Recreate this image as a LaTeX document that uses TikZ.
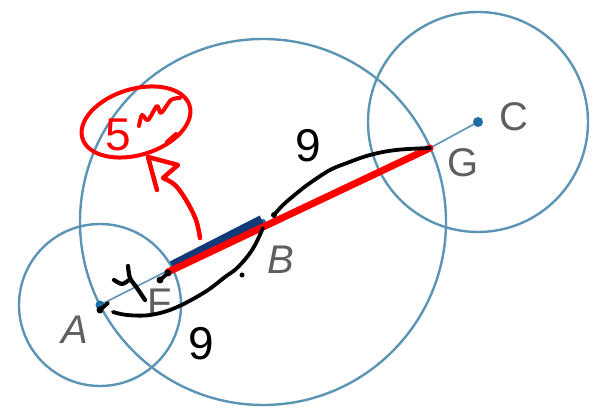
\documentclass[tikz,border=0pt]{standalone}
\usepackage{fontspec}
\setmainfont{Liberation Sans}
\begin{document}
\begin{tikzpicture}[x=1pt,y=1pt,
  circ/.style={draw=circblue,line width=2.4pt},
  thin/.style={draw=circblue,line width=1.6pt},
  lbl/.style={text=labelgray,font=\fontsize{40}{40}\selectfont,inner sep=0pt},
  pen/.style={draw=black,line width=3.8pt,line cap=round,line join=round},
  redpen/.style={draw=red,line width=4pt,line cap=round,line join=round},
  hand/.style={font=\fontsize{46}{46}\selectfont,inner sep=0pt},
  pt/.style={circle,fill=dotblue,inner sep=0pt}]
\definecolor{circblue}{RGB}{92,148,182}
\definecolor{dotblue}{RGB}{30,110,165}
\definecolor{labelgray}{RGB}{95,95,95}
\definecolor{navy}{RGB}{18,58,120}
\useasboundingbox (0,0) rectangle (597,411);
% points
\coordinate (A) at (100,106);
\coordinate (B) at (263,189);
\coordinate (C) at (478,289);
\coordinate (G) at (430,263);
\coordinate (F) at (171,142);
\coordinate (F2) at (172,145);
\coordinate (B2) at (262,191);
\coordinate (R) at (168,139);
% circles
\draw[circ] (A) circle[radius=81];
\draw[circ] (B) circle[radius=183];
\draw[circ] (C) circle[radius=110];
% thin segments
\draw[thin] (A) -- (F);
\draw[thin] (G) -- (C);
% markers
\node[pt,minimum size=9pt] (pA) at (A) {};
\node[pt,minimum size=10pt] (pC) at (C) {};
\node[pt,minimum size=6pt] (pG) at (G) {};
\node[pt,minimum size=6pt] (pB) at (B) {};
% labels
\node[lbl] (lA) at (75,81) {\itshape A};
\node[lbl] (lB) at (281,151) {\itshape B};
\node[lbl] (lC) at (514,294) {C};
\node[lbl] (lG) at (463,248) {G};
\node[lbl] (lF) at (160,108) {F};
% thick segments
\draw[navy,line width=10pt] (F2) -- (B2);
\draw[red,line width=7pt,line cap=round] (R) -- (G);
% black handwriting
\draw[pen] plot[smooth,tension=0.6] coordinates {(274,196) (283,206) (297,218) (310,228) (330,241) (347,248) (370,256) (396,261) (430,263)};
\draw[pen] plot[smooth,tension=0.6] coordinates {(263,183) (255,166) (247,154) (236,142) (225,134) (205,119) (175,103) (150,96) (127,96) (113,99)};
\fill (242,136) circle[radius=2.5];
\draw[pen] (100,101) -- (108,108);
\fill (100,101) circle[radius=3.5];
\draw[pen] (160,131) -- (168,138);
\fill (160,131) circle[radius=3.5];
\fill (168,138) circle[radius=3.5];
\fill (274,196) circle[radius=3];
\draw[pen,line width=4.2pt] plot[smooth] coordinates {(128,145) (130,133) (137,123) (145,111)};
\draw[pen,line width=4.2pt] plot[smooth] coordinates {(114,131) (122,127) (129,131)};
\node[hand] (n1) at (308,265) {9};
\node[hand] (n2) at (201,67) {9};
% red handwriting
\draw[redpen] (136,289) ellipse[x radius=56,y radius=33,rotate=17];
\draw[redpen] (176,277) -- (167,269);
\node[hand,text=red,font=\fontsize{46}{46}\selectfont] (n5) at (118,276) {5};
\draw[redpen] plot[smooth,tension=0.5] coordinates {(139,285) (142,296) (148,291) (157,305) (161,298) (171,311) (180,313)};
\draw[redpen,line width=4.5pt] plot[smooth,tension=0.6] coordinates {(200,173) (196,191) (186,211) (175,226) (163,233)} -- (178,246) -- (148,254) -- (157,221);
\end{tikzpicture}
\end{document}
